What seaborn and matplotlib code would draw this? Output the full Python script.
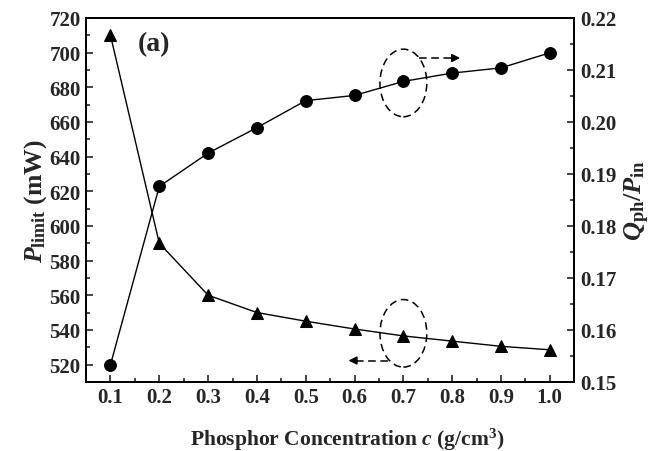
import matplotlib
matplotlib.use("Agg")
import matplotlib.pyplot as plt
import seaborn as sns
import pandas as pd
from matplotlib.patches import Ellipse
from matplotlib.ticker import MultipleLocator

# data
conc = [0.1, 0.2, 0.3, 0.4, 0.5, 0.6, 0.7, 0.8, 0.9, 1.0]
p_limit = [710, 590, 560, 550, 545, 540.5, 536.5, 533.5, 530.5, 528.5]
q_ratio = [0.1533, 0.1876, 0.1940, 0.1989, 0.2041, 0.2051, 0.2078, 0.2094, 0.2104, 0.2133]
p_ticks = list(range(520, 721, 20))
q_ticks = [0.15, 0.16, 0.17, 0.18, 0.19, 0.20, 0.21, 0.22]

df = pd.DataFrame({'c': conc, 'P': p_limit, 'Q': q_ratio})

sns.set_theme(style="ticks")
plt.rcParams['font.family'] = ['Liberation Serif', 'DejaVu Serif']
plt.rcParams['font.weight'] = 'bold'
plt.rcParams['mathtext.fontset'] = 'custom'
plt.rcParams['mathtext.rm'] = 'Liberation Serif:bold'
plt.rcParams['mathtext.it'] = 'Liberation Serif:italic:bold'
plt.rcParams['mathtext.bf'] = 'Liberation Serif:bold'
plt.rcParams['axes.linewidth'] = 1.3

fig = plt.figure(figsize=(6.57, 4.52), dpi=100)
ax = fig.add_axes([0.131, 0.153, 0.743, 0.805])
ax2 = ax.twinx()

sns.lineplot(data=df, x='c', y='P', ax=ax, color='black', marker='^',
             markersize=9, linewidth=1.0, markeredgecolor='black')
sns.lineplot(data=df, x='c', y='Q', ax=ax2, color='black', marker='o',
             markersize=8.5, linewidth=1.0, markeredgecolor='black')

ax.set_xlim(0.05, 1.05)
ax.set_ylim(510, 720)
ax2.set_ylim(0.15, 0.22)

ax.set_xticks(conc)
ax.set_xticklabels([f'{v:.1f}' for v in conc], fontweight='bold')
ax.xaxis.set_minor_locator(MultipleLocator(0.05))
ax.set_yticks(p_ticks)
ax.set_yticklabels([str(v) for v in p_ticks], fontweight='bold')
ax.yaxis.set_minor_locator(MultipleLocator(10))
ax2.set_yticks(q_ticks)
ax2.set_yticklabels([f'{v:.2f}' for v in q_ticks], fontweight='bold')
ax2.yaxis.set_minor_locator(MultipleLocator(0.005))

for a in (ax, ax2):
    a.tick_params(which='both', direction='in', labelsize=15, width=1.2, pad=4)
    a.tick_params(which='major', length=5)
    a.tick_params(which='minor', length=3)
    for s in a.spines.values():
        s.set_visible(True)
        s.set_linewidth(1.3)
        s.set_color('black')

ax.set_xlabel(r'Phosphor Concentration $\mathit{c}$ (g/cm$^\mathbf{3}$)', fontsize=15.5,
              fontweight='bold')
ax.xaxis.set_label_coords(0.535, -0.12)
ax.set_ylabel(r'$\mathit{P}_{\mathrm{limit}}$ (mW)', fontsize=18.5, fontweight='bold', labelpad=0)
ax2.set_ylabel(r'$\mathit{Q}_{\mathrm{ph}}/\mathit{P}_{\mathrm{in}}$', fontsize=19,
               fontweight='bold', labelpad=5)

ax.text(0.155, 705, '(a)', fontsize=20, fontweight='bold', va='center')

# dashed ellipses and arrows
ax2.add_patch(Ellipse((0.70, 0.2075), 0.096, 0.013, fill=False,
                      ls=(0, (5, 3)), lw=1.1, color='black'))
ax.add_patch(Ellipse((0.70, 538), 0.096, 39, fill=False,
                     ls=(0, (5, 3)), lw=1.1, color='black'))

ax2.plot([0.732, 0.80], [0.2123, 0.2123], color='black', lw=1.1, ls=(0, (5, 3)))
ax2.annotate('', xy=(0.822, 0.2123), xytext=(0.795, 0.2123),
             arrowprops=dict(arrowstyle='-|>', color='black', lw=1.1,
                             mutation_scale=12))
ax.plot([0.668, 0.605], [522.3, 522.3], color='black', lw=1.1, ls=(0, (5, 3)))
ax.annotate('', xy=(0.582, 522.3), xytext=(0.61, 522.3),
            arrowprops=dict(arrowstyle='-|>', color='black', lw=1.1,
                            mutation_scale=12))

plt.savefig('out.png', dpi=100)
